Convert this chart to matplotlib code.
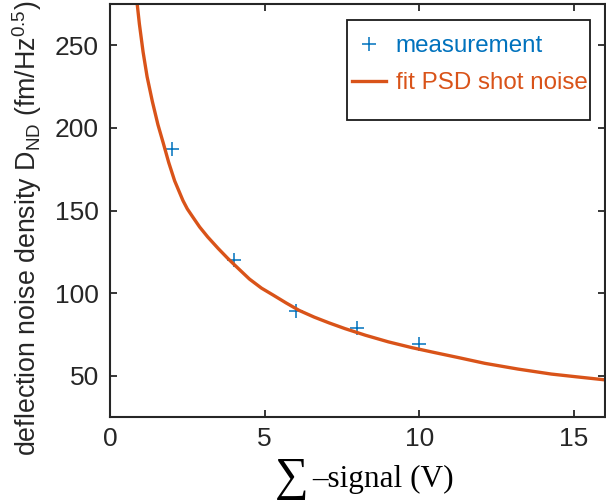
import matplotlib
matplotlib.use("Agg")
import matplotlib.pyplot as plt
from matplotlib.patches import Rectangle

# measured points
meas_x = [2, 4, 6, 8, 10]
meas_y = [187.5, 120, 89, 79, 69]

# fitted curve
fit_x = [0.88, 0.95, 1.07, 1.2, 1.37, 1.55, 1.72, 1.9, 2.09, 2.36, 2.5, 2.68,
         2.9, 3.16, 3.5, 3.81, 4.2, 4.51, 4.9, 5.26, 5.7, 6.12, 6.6, 7.08,
         7.6, 8.26, 9.0, 9.76, 10.5, 11.26, 12.12, 13.2, 14.27, 15.1, 16.0]
fit_y = [275, 263, 246, 231, 216, 202, 191, 179, 168, 156, 151, 146,
         140, 134, 127, 121, 114, 108.5, 103, 99, 94, 89.5, 85.5, 82,
         78.5, 74.5, 70.5, 67, 64, 61, 57.5, 54, 51, 49.3, 47.5]

x_ticks = [0, 5, 10, 15]
y_ticks = [50, 100, 150, 200, 250]

blue = '#0072BD'
orange = '#D95319'

plt.rcParams['font.family'] = ['Liberation Sans', 'DejaVu Sans']
plt.rcParams['mathtext.fontset'] = 'custom'
plt.rcParams['mathtext.rm'] = 'Liberation Sans'
plt.rcParams['mathtext.it'] = 'Liberation Sans:italic'

fig = plt.figure(figsize=(6.06, 5.04), dpi=100)
ax = fig.add_axes([0.1815, 0.1726, 0.8165, 0.8194])

ax.plot(meas_x, meas_y, '+', color=blue, markersize=10, markeredgewidth=1.1,
        label='measurement')
ax.plot(fit_x, fit_y, '-', color=orange, linewidth=2.4, solid_joinstyle='round',
        label='fit PSD shot noise')

ax.set_xlim(0, 16)
ax.set_ylim(25, 275)
ax.set_xticks(x_ticks)
ax.set_yticks(y_ticks)
ax.tick_params(direction='in', length=5, width=1.3, labelsize=19,
               top=True, right=True, colors='#262626')
ax.tick_params(axis='y', pad=8)
ax.tick_params(axis='x', pad=7)
for s in ax.spines.values():
    s.set_linewidth(1.5)
    s.set_color('#262626')

ax.set_ylabel(r'deflection noise density D$_{\rm ND}$ (fm/Hz$^{0.5}$)',
              fontsize=19.3, color='#262626')
ax.yaxis.set_label_coords(-0.133, 0.458)

# x label: big summation sign followed by serif text
ax.text(0.333, -0.150, '∑', transform=ax.transAxes, ha='left', va='center',
        family='Liberation Serif', fontsize=34, clip_on=False)
ax.text(0.408, -0.169, '–signal (V)', transform=ax.transAxes, ha='left',
        va='baseline', family='Liberation Serif', fontsize=22.5, clip_on=False)

leg = ax.legend(loc='upper left', bbox_to_anchor=(0.489, 0.924), fontsize=17.4,
                labelcolor='linecolor', frameon=False, handlelength=1.4,
                handletextpad=0.42, borderpad=0, borderaxespad=0,
                labelspacing=0.62)
ax.add_patch(Rectangle((0.479, 0.719), 0.491, 0.242, transform=ax.transAxes,
                       fill=False, edgecolor='#1a1a1a', linewidth=1.3, zorder=5))

fig.savefig('out.png', dpi=100)
